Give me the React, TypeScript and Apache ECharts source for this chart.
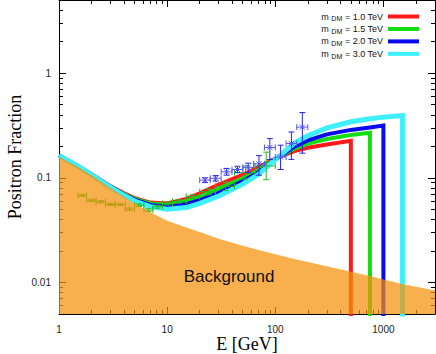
import React, { useEffect, useRef } from "react";
import * as echarts from "echarts";

// ---- axis ticks ----
const xMajorTicks = [1, 10, 100, 1000];
const yMajorTicks = [0.01, 0.1, 1];
const minorFactors = [2, 3, 4, 5, 6, 7, 8, 9];
const xDecades = [1, 10, 100, 1000];
const yDecades = [0.001, 0.01, 0.1, 1];
const xMin = 1;
const xMax = 3000;
const yMin = 0.005;
const yMax = 5;

// ---- background (secondary positrons) ----
const bgEnergy = [1, 1.5, 2, 3, 4, 5, 7, 10, 15, 20, 30, 50, 70, 100, 150, 200, 300, 500, 700, 1000, 1500, 2000, 3000];
const bgFraction = [0.16, 0.127, 0.106, 0.08, 0.066, 0.057, 0.047, 0.039, 0.0335, 0.0303, 0.0262, 0.0225, 0.0204, 0.0186, 0.0168, 0.0157, 0.0143, 0.0127, 0.0117, 0.0107, 0.0097, 0.0091, 0.0084];

// ---- dark matter model curves ----
const curveEnergy = [1, 1.5, 2, 3, 4, 5, 7, 10, 15, 20, 30, 50, 70, 100, 150, 200, 300, 500, 750, 1000, 1500];
const massLabels = ["1.0", "1.5", "2.0", "3.0"];
const massCutoff = [500, 750, 1000, 1500];
const dropFloor = 0.001;
const curve10 = [0.163, 0.129, 0.108, 0.083, 0.071, 0.064, 0.058, 0.057, 0.063, 0.071, 0.086, 0.107, 0.126, 0.153, 0.18, 0.194, 0.208, 0.226];
const curve15 = [0.163, 0.129, 0.108, 0.082, 0.07, 0.063, 0.057, 0.055, 0.06, 0.066, 0.079, 0.099, 0.119, 0.151, 0.19, 0.212, 0.235, 0.256, 0.27];
const curve20 = [0.163, 0.129, 0.107, 0.082, 0.069, 0.062, 0.055, 0.053, 0.056, 0.061, 0.072, 0.093, 0.113, 0.15, 0.198, 0.228, 0.26, 0.287, 0.303, 0.316];
const curve30 = [0.163, 0.129, 0.107, 0.081, 0.068, 0.06, 0.053, 0.05, 0.052, 0.057, 0.067, 0.087, 0.108, 0.149, 0.215, 0.252, 0.3, 0.343, 0.367, 0.38, 0.395];
const curveColors = ["#ff1a1a", "#14dd14", "#0a0aee", "#3cf0ff"];

// ---- data set 1 (green) ----
const pamE = [1.64, 2.0, 2.44, 2.99, 3.69, 4.5, 5.5, 6.7, 8.2, 10.1, 12.9, 17.5, 24.3, 34.7, 53.0, 82.4];
const pamELo = [1.5, 1.8, 2.2, 2.7, 3.3, 4.1, 5.0, 6.1, 7.4, 9.1, 11.2, 15, 20, 28, 42, 65];
const pamEHi = [1.8, 2.2, 2.7, 3.3, 4.1, 5.0, 6.1, 7.4, 9.1, 11.2, 15, 20, 28, 42, 65, 100];
const pamY = [0.068, 0.061, 0.059, 0.0557, 0.0557, 0.0502, 0.0548, 0.0492, 0.0529, 0.057, 0.0595, 0.0665, 0.0735, 0.083, 0.112, 0.13];
const pamYLo = [0.0665, 0.0595, 0.0575, 0.0543, 0.0542, 0.0488, 0.0532, 0.0477, 0.0512, 0.0551, 0.0574, 0.0635, 0.069, 0.076, 0.097, 0.096];
const pamYHi = [0.0695, 0.0625, 0.0605, 0.0571, 0.0572, 0.0516, 0.0564, 0.0507, 0.0546, 0.0589, 0.0616, 0.0695, 0.078, 0.091, 0.13, 0.176];

// ---- data set 2 (blue) ----
const fermiE = [22.4, 28.1, 35.5, 44.7, 56.2, 70.7, 89.1, 112, 141, 178];
const fermiELo = [20, 25, 31.6, 39.8, 50.1, 63.1, 79.4, 100, 126, 158];
const fermiEHi = [25, 31.6, 39.8, 50.1, 63.1, 79.4, 100, 126, 158, 200];
const fermiY = [0.095, 0.099, 0.114, 0.12, 0.126, 0.136, 0.195, 0.158, 0.213, 0.305];
const fermiYLo = [0.09, 0.093, 0.106, 0.112, 0.112, 0.106, 0.15, 0.12, 0.15, 0.172];
const fermiYHi = [0.1, 0.105, 0.123, 0.129, 0.138, 0.163, 0.237, 0.205, 0.274, 0.42];

const sans = "'Liberation Sans', Arial, Helvetica, sans-serif";
const serif = "'Liberation Serif', 'Times New Roman', serif";

const xMinorTicks = xDecades.flatMap((d) => minorFactors.map((f) => f * d)).filter((v) => v > xMin && v < xMax);
const yMinorTicks = yDecades.flatMap((d) => minorFactors.map((f) => +(f * d).toPrecision(6))).filter((v) => v > yMin * 1.001 && v < yMax * 0.999);

const fmt = (v: number) => String(+(+v).toPrecision(6));

function makeErrorRender(vColor: string, hColor: string, cross: boolean) {
  return (params: any, api: any) => {
    const x = api.value(0), y = api.value(1);
    const xl = api.value(2), xh = api.value(3), yl = api.value(4), yh = api.value(5);
    const c = api.coord([x, y]);
    const pl = api.coord([xl, y]);
    const ph = api.coord([xh, y]);
    const py1 = api.coord([x, yl]);
    const py2 = api.coord([x, yh]);
    const cap = 3;
    const hs = { stroke: hColor, lineWidth: 1 };
    const vs = { stroke: vColor, lineWidth: 1 };
    const children: any[] = [
      { type: "line", shape: { x1: pl[0], y1: c[1], x2: ph[0], y2: c[1] }, style: hs },
      { type: "line", shape: { x1: pl[0], y1: c[1] - cap, x2: pl[0], y2: c[1] + cap }, style: hs },
      { type: "line", shape: { x1: ph[0], y1: c[1] - cap, x2: ph[0], y2: c[1] + cap }, style: hs },
      { type: "line", shape: { x1: c[0], y1: py1[1], x2: c[0], y2: py2[1] }, style: vs },
      { type: "line", shape: { x1: c[0] - cap, y1: py1[1], x2: c[0] + cap, y2: py1[1] }, style: vs },
      { type: "line", shape: { x1: c[0] - cap, y1: py2[1], x2: c[0] + cap, y2: py2[1] }, style: vs },
    ];
    if (cross) {
      const s = 2.5;
      children.push({ type: "line", shape: { x1: c[0] - s, y1: c[1] - s, x2: c[0] + s, y2: c[1] + s }, style: hs });
      children.push({ type: "line", shape: { x1: c[0] - s, y1: c[1] + s, x2: c[0] + s, y2: c[1] - s }, style: hs });
    }
    return { type: "group", children };
  };
}

export default function App() {
  const ref = useRef<HTMLDivElement>(null);
  useEffect(() => {
    if (!ref.current) return;
    const chart = echarts.init(ref.current, null, { renderer: "svg" });
    const curves = [curve10, curve15, curve20, curve30];
    const names = massLabels.map((m) => `m_DM = ${m} TeV`);
    const lineSeries = curves.map((vals, k) => {
      const data: number[][] = vals.map((v, i) => [curveEnergy[i], v]);
      data.push([massCutoff[k], dropFloor]);
      return {
        type: "line",
        name: names[k],
        data,
        xAxisIndex: 0,
        yAxisIndex: 0,
        showSymbol: false,
        symbol: "none",
        color: curveColors[k],
        z: 2,
        lineStyle: { color: curveColors[k], width: k === 3 ? 5 : 4, join: "miter" },
      };
    });
    const axisBase = { type: "log", logBase: 10, splitLine: { show: false } };
    const xAxes = [
      {
        ...axisBase, min: xMin, max: xMax, position: "bottom",
        axisLine: { show: true, lineStyle: { color: "#000", width: 1 } },
        axisTick: { show: true, inside: true, length: 7, customValues: xMajorTicks, lineStyle: { color: "#000" } },
        axisLabel: { show: true, customValues: xMajorTicks, formatter: fmt, fontSize: 10, lineHeight: 11, fontFamily: sans, color: "#222", margin: 10 },
        name: "E [GeV]", nameLocation: "middle", nameGap: 30, nameMoveOverlap: false,
        nameTextStyle: { fontFamily: serif, fontSize: 18, lineHeight: 18, color: "#000", verticalAlign: "middle" },
      },
      {
        ...axisBase, min: xMin, max: xMax, position: "bottom",
        axisLine: { show: false },
        axisTick: { show: true, inside: true, length: 4, customValues: xMinorTicks, lineStyle: { color: "#000" } },
        axisLabel: { show: false },
      },
      {
        ...axisBase, min: xMin, max: xMax, position: "top",
        axisLine: { show: true, lineStyle: { color: "#000", width: 1 } },
        axisTick: { show: true, inside: true, length: 7, customValues: xMajorTicks, lineStyle: { color: "#000" } },
        axisLabel: { show: false },
      },
      {
        ...axisBase, min: xMin, max: xMax, position: "top",
        axisLine: { show: false },
        axisTick: { show: true, inside: true, length: 4, customValues: xMinorTicks, lineStyle: { color: "#000" } },
        axisLabel: { show: false },
      },
    ];
    const yAxes = [
      {
        ...axisBase, min: yMin, max: yMax, position: "left",
        axisLine: { show: true, lineStyle: { color: "#000", width: 1 } },
        axisTick: { show: true, inside: true, length: 7, customValues: yMajorTicks, lineStyle: { color: "#000" } },
        axisLabel: { show: true, customValues: yMajorTicks, formatter: fmt, fontSize: 10, fontFamily: sans, color: "#222", margin: 8 },
        name: "Positron Fraction", nameLocation: "middle", nameGap: 44, nameRotate: 90, nameMoveOverlap: false,
        nameTextStyle: { fontFamily: serif, fontSize: 18, color: "#000", verticalAlign: "middle" },
      },
      {
        ...axisBase, min: yMin, max: yMax, position: "left",
        axisLine: { show: false },
        axisTick: { show: true, inside: true, length: 4, customValues: yMinorTicks, lineStyle: { color: "#000" } },
        axisLabel: { show: false },
      },
      {
        ...axisBase, min: yMin, max: yMax, position: "right",
        axisLine: { show: true, lineStyle: { color: "#000", width: 1 } },
        axisTick: { show: true, inside: true, length: 7, customValues: yMajorTicks, lineStyle: { color: "#000" } },
        axisLabel: { show: false },
      },
      {
        ...axisBase, min: yMin, max: yMax, position: "right",
        axisLine: { show: false },
        axisTick: { show: true, inside: true, length: 4, customValues: yMinorTicks, lineStyle: { color: "#000" } },
        axisLabel: { show: false },
      },
    ];
    const pamData = pamE.map((e, i) => [e, pamY[i], pamELo[i], pamEHi[i], pamYLo[i], pamYHi[i]]);
    const fermiData = fermiE.map((e, i) => [e, fermiY[i], fermiELo[i], fermiEHi[i], fermiYLo[i], fermiYHi[i]]);
    const option: any = {
      animation: false,
      backgroundColor: "#fff",
      grid: { left: 59, right: 1, top: 0, bottom: 40, containLabel: false, outerBoundsMode: "none" },
      xAxis: xAxes,
      yAxis: yAxes,
      legend: {
        data: names,
        orient: "vertical",
        right: 12,
        top: 7,
        align: "right",
        icon: "rect",
        itemWidth: 31,
        itemHeight: 4,
        itemGap: 2.2,
        formatter: (name: string) => {
          const m = massLabels[names.indexOf(name)];
          return `{n|m }{s|DM}{n| = ${m} TeV}`;
        },
        textStyle: {
          fontFamily: sans,
          fontSize: 9,
          color: "#111",
          rich: {
            n: { fontFamily: sans, fontSize: 9, color: "#111", lineHeight: 11.5 },
            s: { fontFamily: sans, fontSize: 7, color: "#111", verticalAlign: "bottom", lineHeight: 7 },
          },
        },
      },
      graphic: [
        {
          type: "text",
          x: 229,
          y: 276,
          style: { text: "Background", fontFamily: sans, fontSize: 17, fill: "#111", textAlign: "center", textVerticalAlign: "middle" },
          z: 10,
        },
      ],
      series: [
        ...lineSeries,
        {
          type: "custom",
          name: "dataA",
          xAxisIndex: 0,
          yAxisIndex: 0,
          data: pamData,
          encode: { x: 0, y: 1 },
          renderItem: makeErrorRender("#22bb22", "#22bb22", false),
          z: 3,
          clip: true,
        },
        {
          type: "custom",
          name: "dataB",
          xAxisIndex: 0,
          yAxisIndex: 0,
          data: fermiData,
          encode: { x: 0, y: 1 },
          renderItem: makeErrorRender("#2424e6", "#5656ee", true),
          z: 3,
          clip: true,
        },
        {
          type: "line",
          name: "bg",
          xAxisIndex: 0,
          yAxisIndex: 0,
          data: bgEnergy.map((e, i) => [e, bgFraction[i]]),
          showSymbol: false,
          symbol: "none",
          lineStyle: { width: 0 },
          areaStyle: { color: "rgba(245,145,10,0.72)", origin: "start", opacity: 1 },
          z: 4,
        },
      ],
    };
    chart.setOption(option);
    return () => chart.dispose();
  }, []);
  return <div ref={ref} style={{ width: 436, height: 354, position: "absolute", left: 0, top: 0 }} />;
}
